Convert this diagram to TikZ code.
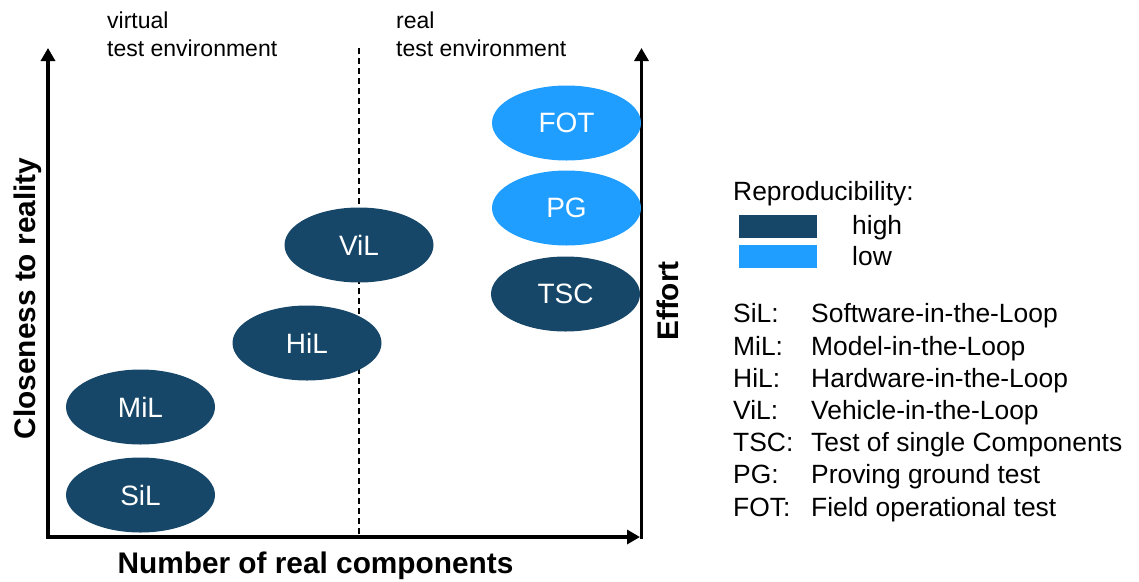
\documentclass[tikz,border=0pt]{standalone}
\usepackage{fontspec}
\setmainfont{Liberation Sans}
\usetikzlibrary{arrows.meta,shapes.geometric}
\definecolor{reprohigh}{RGB}{22,71,104}
\definecolor{reprolow}{RGB}{32,158,255}
\tikzset{
  axisline/.style={line width=3.5pt, line join=miter,
    arrows={Triangle[length=13pt,width=14pt]-Triangle[length=13pt,width=14pt]}},
  axisup/.style={line width=3.5pt, -{Triangle[length=13pt,width=14pt]}},
  divider/.style={line width=1.6pt, dash pattern=on 6pt off 4pt},
  method/.style={ellipse, minimum width=149pt, minimum height=75pt, inner sep=0pt,
    text=white, font=\fontsize{28}{32}\selectfont},
  hi/.style={method, fill=reprohigh},
  lo/.style={method, fill=reprolow},
  envlabel/.style={anchor=base west, inner sep=0pt, font=\fontsize{23}{27}\selectfont},
  legtext/.style={anchor=base west, inner sep=0pt, font=\fontsize{26.4}{30}\selectfont},
  swatch/.style={minimum width=78pt, minimum height=23pt, inner sep=0pt},
  axislabel/.style={anchor=base, inner sep=0pt, font=\fontsize{29.8}{33}\selectfont\bfseries}
}
\begin{document}
\begin{tikzpicture}[x=1pt,y=-1pt]
\useasboundingbox (0,0) rectangle (1139,581);

% axes
\coordinate (ytip) at (48,48);
\coordinate (origin) at (48,537);
\coordinate (xtip) at (640,537);
\coordinate (effbot) at (641.5,538.75);
\coordinate (efftip) at (641.5,48);
\coordinate (divtop) at (359,48);
\coordinate (divbot) at (359,537);

\draw[divider] (divtop) -- (divbot);
\draw[axisline] (ytip) -- (origin) -- (xtip);
\draw[axisup] (effbot) -- (efftip);

% environment labels
\node[envlabel] (virt1) at (107,28) {virtual};
\node[envlabel] (virt2) at (107,56) {test environment};
\node[envlabel] (real1) at (396,28) {real};
\node[envlabel] (real2) at (396,56) {test environment};

% test methods
\node[lo] (FOT) at (566.5,123) {FOT};
\node[lo] (PG)  at (566.5,208) {PG};
\node[hi] (TSC) at (565.5,294) {TSC};
\node[hi] (ViL) at (359,245) {ViL};
\node[hi] (HiL) at (307,343) {HiL};
\node[hi] (MiL) at (140.5,407) {MiL};
\node[hi] (SiL) at (140.5,495) {SiL};

% axis titles
\node[axislabel] (xlab) at (315.5,573) {Number of real components};
\node[axislabel, rotate=90] (ylab) at (35.5,298.5) {Closeness to reality};
\node[axislabel, rotate=90] (elab) at (678,301) {Effort};

% reproducibility legend
\node[legtext] (reprotitle) at (733,200.5) {Reproducibility:};
\node[swatch, fill=reprohigh] (swhigh) at (778,226.5) {};
\node[swatch, fill=reprolow] (swlow) at (778,256.5) {};
\node[legtext] (high) at (852,234) {high};
\node[legtext] (low) at (852,265.7) {low};

% abbreviations
\foreach \ab/\desc [count=\i from 0] in {SiL/Software-in-the-Loop, MiL/Model-in-the-Loop,
    HiL/Hardware-in-the-Loop, ViL/Vehicle-in-the-Loop, TSC/Test of single Components,
    PG/Proving ground test, FOT/Field operational test} {
  \node[legtext] (ab\i) at (733,{322.8+32.2*\i}) {\ab:};
  \node[legtext] (desc\i) at (811,{322.8+32.2*\i}) {\desc};
}
\end{tikzpicture}
\end{document}
